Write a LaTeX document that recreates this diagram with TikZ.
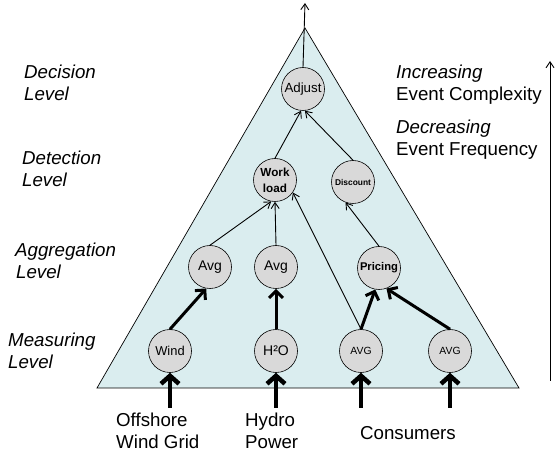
\documentclass[tikz,border=0pt]{standalone}
\usepackage{fontspec}
\setmainfont{Liberation Sans}
\usetikzlibrary{arrows.meta}
\definecolor{pyramid}{HTML}{DAEDEF}
\definecolor{nodegray}{HTML}{D9D9D9}
\tikzset{
  evt/.style={circle, draw, fill=nodegray, minimum size=43pt, inner sep=0pt, line width=0.6pt, align=center},
  thin/.style={line width=0.9pt, -{Straight Barb[length=6pt,width=8pt]}},
  thick/.style={line width=3pt, -{Straight Barb[length=7pt,width=14pt]}},
  feed/.style={line width=4.5pt, -{Straight Barb[length=8pt,width=18pt]}},
  lvl/.style={font=\fontsize{18.7}{22}\selectfont\itshape, anchor=base west, inner sep=0pt},
  txt/.style={font=\fontsize{18.7}{22}\selectfont, anchor=base west, inner sep=0pt}
}
\begin{document}
\begin{tikzpicture}[x=1pt, y=-1pt]
\useasboundingbox (0,0) rectangle (555,457);
% pyramid
\coordinate (apex) at (305,28);
\coordinate (bl) at (97,388);
\coordinate (br) at (519,388);
\draw[fill=pyramid, line width=0.7pt] (apex) -- (bl) -- (br) -- cycle;
\coordinate (top) at (305,3);

% event nodes
\node[evt, font=\fontsize{13.3}{15}\selectfont] (adjust) at (303,89) {Adjust};
\node[evt, font=\fontsize{11.7}{16}\selectfont\bfseries] (work) at (275,180) {Work\\load};
\node[evt, font=\fontsize{8.4}{10}\selectfont\bfseries] (disc) at (353,182) {Discount};
\node[evt, font=\fontsize{14}{16}\selectfont] (avgl) at (210,267) {Avg};
\node[evt, font=\fontsize{14}{16}\selectfont] (avgm) at (276,267) {Avg};
\node[evt, font=\fontsize{11.2}{13}\selectfont\bfseries] (price) at (379,268) {Pricing};
\node[evt, font=\fontsize{12.9}{15}\selectfont] (wind) at (170,351) {Wind};
\node[evt, font=\fontsize{14}{16}\selectfont] (h2o) at (276,351) {H²O};
\node[evt, font=\fontsize{10.4}{12}\selectfont] (avg1) at (361,351) {AVG};
\node[evt, font=\fontsize{10.4}{12}\selectfont] (avg2) at (450,351) {AVG};

% sources
\coordinate (s1) at (170,408);
\coordinate (s2) at (276,408);
\coordinate (s3) at (361,408);
\coordinate (s4) at (450,408);
\draw[feed] (s1) -- (wind.south);
\draw[feed] (s2) -- (h2o.south);
\draw[feed] (s3) -- (avg1.south);
\draw[feed] (s4) -- (avg2.south);

% aggregation
\draw[thick] (wind.north) -- (avgl.-100);
\draw[thick] (h2o.north) -- (avgm.south);
\draw[thick] (avg1.north) -- (price.-100);
\draw[thick] (avg2.north) -- (price.-70);

% detection
\draw[thin] (avgl.north) -- (work.-100);
\draw[thin] (avgm.north) -- (work.-90);
\draw[thin] (avg1.north) -- (work.-35);
\draw[thin] (price.north) -- (disc.-110);

% decision
\draw[thin] (work.north) -- (adjust.-95);
\draw[thin] (disc.north) -- (adjust.-85);
\draw[thin] (adjust.north) -- (top);

% level labels
\node[lvl] (l1a) at (24,79) {Decision};
\node[lvl] (l1b) at (24,101) {Level};
\node[lvl] (l2a) at (22,165) {Detection};
\node[lvl] (l2b) at (22,187) {Level};
\node[lvl] (l3a) at (15,257) {Aggregation};
\node[lvl] (l3b) at (16,279) {Level};
\node[lvl] (l4a) at (8,347) {Measuring};
\node[lvl] (l4b) at (8,369) {Level};

% source labels
\node[txt] (t1a) at (116,427) {Offshore};
\node[txt] (t1b) at (116,449) {Wind Grid};
\node[txt] (t2a) at (245,427) {Hydro};
\node[txt] (t2b) at (245,449) {Power};
\node[txt] (t3) at (360,439) {Consumers};

% trend labels
\node[lvl] (r1a) at (396,79) {Increasing};
\node[txt] (r1b) at (396,101) {Event Complexity};
\node[lvl] (r2a) at (396,134) {Decreasing};
\node[txt] (r2b) at (396,156) {Event Frequency};
\coordinate (vb) at (550,381);
\coordinate (vt) at (550,61);
\draw[thin] (vb) -- (vt);
\end{tikzpicture}
\end{document}
